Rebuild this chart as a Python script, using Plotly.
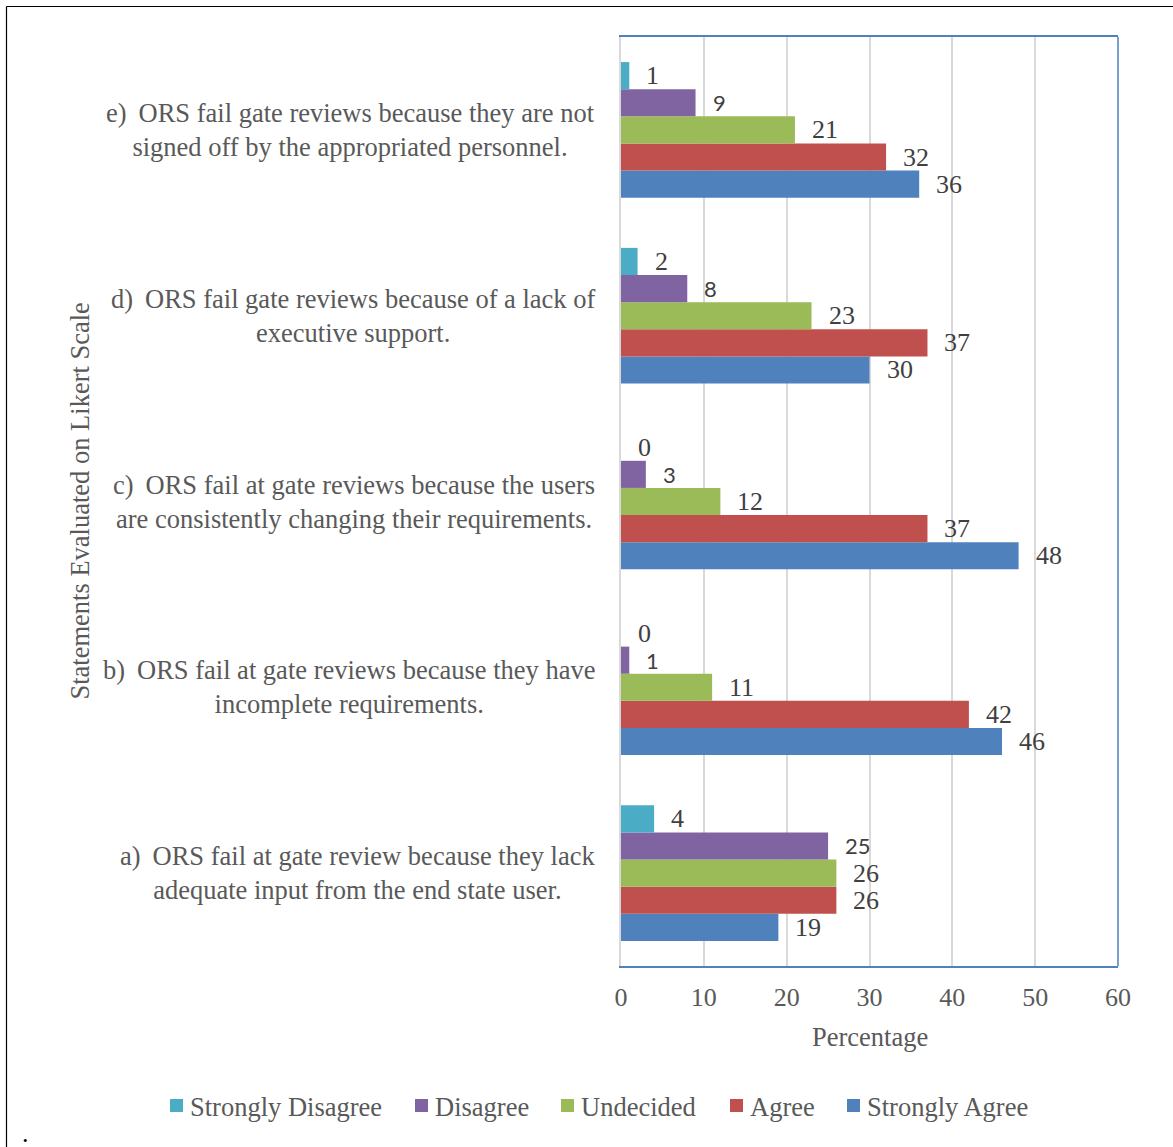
import plotly.graph_objects as go

# Survey statements (bottom to top) and their wrapped labels
categories = ["a", "b", "c", "d", "e"]
statements = [
    "a)\u2009 ORS fail at gate review because they lack<br>adequate input from the end state user.",
    "b)\u2009 ORS fail at gate reviews because they have<br>incomplete requirements.",
    "c)\u2009 ORS fail at gate reviews because the users<br>are consistently changing their requirements.",
    "d)\u2009 ORS fail gate reviews because of a lack of<br>executive support.",
    "e)\u2009 ORS fail gate reviews because they are not<br>signed off by the appropriated personnel.",
]

# Response percentages per statement (a..e)
series_names = ["Strongly Disagree", "Disagree", "Undecided", "Agree", "Strongly Agree"]
strongly_disagree = [4, 0, 0, 2, 1]
disagree = [25, 1, 3, 8, 9]
undecided = [26, 11, 12, 23, 21]
agree = [26, 42, 37, 37, 32]
strongly_agree = [19, 46, 48, 30, 36]

x_ticks = [0, 10, 20, 30, 40, 50, 60]

series_values = [strongly_disagree, disagree, undecided, agree, strongly_agree]
series_colors = ["#4BACC6", "#8064A2", "#9BBB59", "#C0504D", "#4F81BD"]

W, H = 1173, 1147
M_L, M_R, M_T, M_B = 621, 55, 37, 181
PW, PH = W - M_L - M_R, H - M_T - M_B
BARGAP = 0.27

SERIF = "Liberation Serif"
GREY = "#595959"
DARK = "#404040"


def px_x(p):
    return (p - M_L) / PW


def px_y(p):
    return (H - M_B - p) / PH


fig = go.Figure()

# Strongly Agree is drawn first so it sits at the bottom of each group
plot_order = list(range(len(series_names)))[::-1]
for idx in plot_order:
    fig.add_trace(go.Bar(
        y=categories,
        x=series_values[idx],
        name=series_names[idx],
        orientation="h",
        marker=dict(color=series_colors[idx], line=dict(width=0)),
        showlegend=False,
        hoverinfo="x+name",
    ))

# Value labels just past the end of each bar
band_px = PH / len(categories)
bar_px = band_px * (1 - BARGAP) / len(series_names)
annotations = []
for k, idx in enumerate(plot_order):
    offset = (k - (len(series_names) - 1) / 2) * bar_px
    if series_names[idx] == "Disagree":
        lab_font = dict(family="Lato", size=22, color=DARK)
    else:
        lab_font = dict(family=SERIF, size=26, color=DARK)
    for cat, v in zip(categories, series_values[idx]):
        annotations.append(dict(
            x=v, y=cat, xref="x", yref="y",
            text=str(v), showarrow=False,
            xanchor="left", yanchor="middle",
            xshift=15, yshift=offset,
            font=lab_font,
        ))

# Statement labels to the left of the plot
for cat, txt in zip(categories, statements):
    annotations.append(dict(
        x=0, y=cat, xref="paper", yref="y",
        text=txt, showarrow=False,
        xanchor="right", yanchor="middle", align="center",
        xshift=-24,
        font=dict(family=SERIF, size=26.5, color=GREY),
    ))

# Axis titles
annotations.append(dict(
    x=px_x(79), y=0.5, xref="paper", yref="paper",
    text="Statements Evaluated on Likert Scale", textangle=-90,
    showarrow=False, xanchor="center", yanchor="middle",
    font=dict(family=SERIF, size=26.5, color=GREY),
))
annotations.append(dict(
    x=0.5, y=px_y(1037), xref="paper", yref="paper",
    text="Percentage", showarrow=False,
    xanchor="center", yanchor="middle",
    font=dict(family=SERIF, size=26.5, color=GREY),
))

# Stray period at the lower left
annotations.append(dict(
    x=px_x(25), y=px_y(1133), xref="paper", yref="paper",
    text=".", showarrow=False, xanchor="center", yanchor="middle",
    font=dict(family=SERIF, size=26, color="#000000"),
))

shapes = []
# Legend: coloured squares followed by series names
legend_left = [170, 415, 561, 730, 847]
for name, col, lx in zip(series_names, series_colors, legend_left):
    shapes.append(dict(
        type="rect", xref="paper", yref="paper",
        x0=px_x(lx), x1=px_x(lx + 13), y0=px_y(1112), y1=px_y(1099),
        fillcolor=col, line=dict(width=0),
    ))
    annotations.append(dict(
        x=px_x(lx + 18), y=px_y(1107), xref="paper", yref="paper",
        text=name, showarrow=False, xanchor="left", yanchor="middle",
        font=dict(family=SERIF, size=26.5, color=GREY),
    ))

# Right edge of the plot frame
shapes.append(dict(
    type="line", xref="paper", yref="paper",
    x0=1, x1=1, y0=0, y1=1,
    line=dict(color="#4F81BD", width=1.5),
))
# Outer chart frame (top and left edges)
shapes.append(dict(
    type="line", xref="paper", yref="paper",
    x0=px_x(6.5), x1=px_x(W + 5), y0=px_y(6.5), y1=px_y(6.5),
    line=dict(color="#000000", width=1.2),
))
shapes.append(dict(
    type="line", xref="paper", yref="paper",
    x0=px_x(6.5), x1=px_x(6.5), y0=px_y(6.5), y1=px_y(H + 5),
    line=dict(color="#000000", width=1.2),
))

fig.update_layout(
    width=W, height=H,
    margin=dict(l=M_L, r=M_R, t=M_T, b=M_B),
    barmode="group", bargap=BARGAP, bargroupgap=0,
    plot_bgcolor="#FFFFFF", paper_bgcolor="#FFFFFF",
    showlegend=False,
    annotations=annotations,
    shapes=shapes,
    xaxis=dict(
        range=[0, 60], tickvals=x_ticks, ticktext=[str(t) for t in x_ticks],
        showgrid=True, gridcolor="#D9D9D9", gridwidth=1.5,
        zeroline=False, showline=True, linecolor="#4F81BD", linewidth=1.5,
        mirror=True, ticks="",
        tickfont=dict(family=SERIF, size=26, color=GREY),
        ticklabelstandoff=7,
    ),
    yaxis=dict(
        categoryorder="array", categoryarray=categories,
        showticklabels=False, showgrid=False, zeroline=False,
        showline=True, linecolor="#D9D9D9", linewidth=1.5, ticks="",
    ),
)

fig.write_html("out.html")
